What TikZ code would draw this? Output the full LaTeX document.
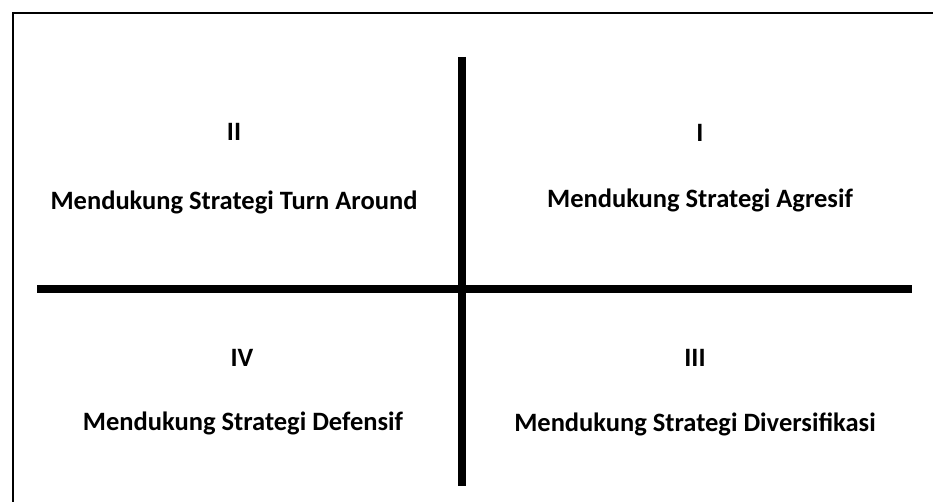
\documentclass[tikz,border=0pt]{standalone}
\usepackage{fontspec}
\setmainfont{Carlito}
\begin{document}
\begin{tikzpicture}[x=1pt,y=-1pt,
  axis/.style={line width=8pt,black},
  frame/.style={line width=2pt,black},
  lbl/.style={font=\bfseries\fontsize{26.5}{32}\selectfont,anchor=base,inner sep=0pt}]
\useasboundingbox (0,0) rectangle (933,502);
\fill[white] (0,0) rectangle (933,502);
\coordinate (ftop) at (933,13);
\coordinate (fcorner) at (13,13);
\coordinate (fleft) at (13,502);
\draw[frame] (ftop) -- (fcorner) -- (fleft);
\coordinate (vt) at (462,57);
\coordinate (vb) at (462,486);
\coordinate (hl) at (37,289);
\coordinate (hr) at (912,289);
\draw[axis] (vt) -- (vb);
\draw[axis] (hl) -- (hr);
\node[lbl] (q2) at (234,141) {II};
\node[lbl] (t2) at (234,210) {Mendukung Strategi Turn Around};
\node[lbl] (q1) at (700,142) {I};
\node[lbl] (t1) at (700,208) {Mendukung Strategi Agresif};
\node[lbl] (q4) at (242,366) {IV};
\node[lbl] (t4) at (243,430) {Mendukung Strategi Defensif};
\node[lbl] (q3) at (695,366) {III};
\node[lbl] (t3) at (695,431) {Mendukung Strategi Diversifikasi};
\end{tikzpicture}
\end{document}
